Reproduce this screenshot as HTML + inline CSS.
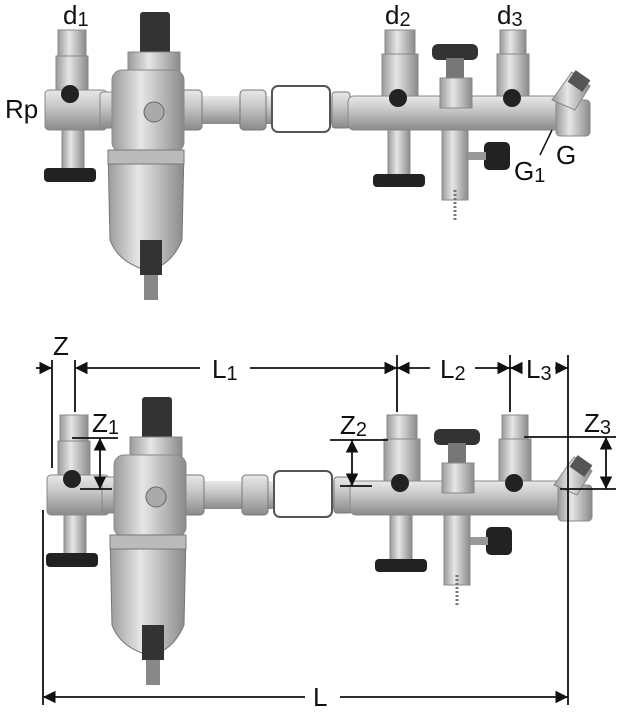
<!DOCTYPE html>
<html><head><style>
html,body{margin:0;padding:0;background:#fff;}
svg{display:block;}
text{font-family:"Liberation Sans Narrow","Liberation Sans",sans-serif;fill:#111;}
</style></head><body>
<svg width="619" height="719" viewBox="0 0 619 719" xmlns="http://www.w3.org/2000/svg">
<defs>
<linearGradient id="m" x1="0" y1="0" x2="0" y2="1">
<stop offset="0" stop-color="#e8e8e8"/><stop offset="0.4" stop-color="#c8c8c8"/><stop offset="1" stop-color="#8a8a8a"/></linearGradient>
<linearGradient id="v" x1="0" y1="0" x2="1" y2="0">
<stop offset="0" stop-color="#9a9a9a"/><stop offset="0.4" stop-color="#e6e6e6"/><stop offset="1" stop-color="#8a8a8a"/></linearGradient>
<marker id="a" viewBox="0 0 10 10" refX="10" refY="5" markerWidth="7" markerHeight="7" orient="auto-start-reverse"><path d="M0,0 L10,5 L0,10 z" fill="#111"/></marker>
<g id="asm">
<rect x="180" y="96" width="170" height="28" fill="url(#m)"/>
<rect x="180" y="90" width="22" height="40" rx="4" fill="url(#m)" stroke="#777"/>
<rect x="240" y="90" width="26" height="40" rx="4" fill="url(#m)" stroke="#777"/>
<rect x="272" y="86" width="58" height="46" rx="6" fill="#fff" stroke="#555" stroke-width="2"/>
<rect x="332" y="92" width="18" height="36" rx="3" fill="url(#m)" stroke="#777"/>
<rect x="45" y="90" width="62" height="40" rx="4" fill="url(#m)" stroke="#888"/>
<rect x="100" y="92" width="22" height="36" rx="3" fill="url(#m)" stroke="#888"/>
<rect x="58" y="30" width="28" height="28" fill="url(#v)" stroke="#888"/>
<rect x="56" y="56" width="32" height="34" fill="url(#v)" stroke="#888"/>
<circle cx="70" cy="94" r="9" fill="#222"/>
<rect x="62" y="130" width="22" height="40" fill="url(#v)" stroke="#888"/>
<rect x="44" y="168" width="52" height="14" rx="4" fill="#222"/>
<rect x="140" y="12" width="30" height="44" rx="3" fill="#333"/>
<rect x="128" y="52" width="52" height="20" fill="url(#v)" stroke="#888"/>
<rect x="112" y="70" width="72" height="82" rx="10" fill="url(#v)" stroke="#888"/>
<circle cx="154" cy="112" r="10" fill="#aaa" stroke="#666"/>
<path d="M108,150 L184,150 L182,240 Q170,268 146,270 Q118,262 110,240 z" fill="url(#v)" stroke="#777"/>
<rect x="108" y="150" width="76" height="14" fill="#bbb" stroke="#777"/>
<rect x="140" y="240" width="22" height="35" fill="#333"/>
<rect x="144" y="275" width="14" height="25" fill="#888"/>
<rect x="348" y="96" width="212" height="34" rx="6" fill="url(#m)" stroke="#888"/>
<rect x="385" y="30" width="30" height="26" fill="url(#v)" stroke="#888"/>
<rect x="382" y="54" width="36" height="42" fill="url(#v)" stroke="#888"/>
<circle cx="398" cy="98" r="9" fill="#222"/>
<rect x="388" y="130" width="22" height="46" fill="url(#v)" stroke="#888"/>
<rect x="373" y="174" width="52" height="13" rx="4" fill="#222"/>
<rect x="432" y="44" width="46" height="16" rx="6" fill="#333"/>
<rect x="446" y="58" width="18" height="22" fill="#777"/>
<rect x="440" y="78" width="32" height="30" fill="url(#v)" stroke="#888"/>
<rect x="442" y="130" width="26" height="70" fill="url(#v)" stroke="#888"/>
<rect x="484" y="142" width="26" height="28" rx="5" fill="#222"/>
<rect x="468" y="152" width="18" height="8" fill="#999"/>
<line x1="455" y1="190" x2="455" y2="220" stroke="#777" stroke-width="3" stroke-dasharray="2 2"/>
<rect x="500" y="30" width="26" height="26" fill="url(#v)" stroke="#888"/>
<rect x="497" y="54" width="32" height="42" fill="url(#v)" stroke="#888"/>
<circle cx="512" cy="98" r="9" fill="#222"/>
<rect x="556" y="100" width="34" height="36" rx="4" fill="url(#v)" stroke="#888"/>
<path d="M552,100 L572,72 L590,86 L575,110 z" fill="url(#v)" stroke="#888"/>
<rect x="570" y="74" width="18" height="14" fill="#555" transform="rotate(35 579 81)"/>
</g>
</defs>
<use href="#asm"/>
<use href="#asm" transform="translate(2,385)"/>
<text x="63" y="24" font-size="26">d<tspan font-size="20" dy="2">1</tspan></text>
<text x="5" y="118" font-size="26">Rp</text>
<text x="385" y="24" font-size="26">d<tspan font-size="20" dy="2">2</tspan></text>
<text x="497" y="24" font-size="26">d<tspan font-size="20" dy="2">3</tspan></text>
<text x="514" y="180" font-size="26">G<tspan font-size="20" dy="2">1</tspan></text>
<text x="556" y="164" font-size="26">G</text>
<line x1="540" y1="155" x2="552" y2="130" stroke="#111" stroke-width="1.5"/>
<g stroke="#111" stroke-width="1.8" fill="none">
<line x1="52" y1="360" x2="52" y2="468"/>
<line x1="75" y1="360" x2="75" y2="412"/>
<line x1="397" y1="355" x2="397" y2="412"/>
<line x1="510" y1="355" x2="510" y2="412"/>
<line x1="568" y1="355" x2="568" y2="705"/>
<line x1="43" y1="510" x2="43" y2="705"/>
<line x1="36" y1="368" x2="52" y2="368" marker-end="url(#a)"/>
<line x1="75" y1="368" x2="200" y2="368" marker-start="url(#a)"/>
<line x1="250" y1="368" x2="397" y2="368" marker-end="url(#a)"/>
<line x1="397" y1="368" x2="430" y2="368" marker-start="url(#a)"/>
<line x1="475" y1="368" x2="510" y2="368" marker-end="url(#a)"/>
<line x1="510" y1="368" x2="522" y2="368" marker-start="url(#a)"/>
<line x1="555" y1="368" x2="568" y2="368" marker-end="url(#a)"/>
<line x1="72" y1="438" x2="118" y2="438"/>
<line x1="80" y1="489" x2="112" y2="489"/>
<line x1="100" y1="438" x2="100" y2="489" marker-start="url(#a)" marker-end="url(#a)"/>
<line x1="330" y1="440" x2="388" y2="440"/>
<line x1="340" y1="486" x2="372" y2="486"/>
<line x1="352" y1="440" x2="352" y2="486" marker-start="url(#a)" marker-end="url(#a)"/>
<line x1="524" y1="437" x2="616" y2="437"/>
<line x1="560" y1="489" x2="616" y2="489"/>
<line x1="606" y1="437" x2="606" y2="489" marker-start="url(#a)" marker-end="url(#a)"/>
<line x1="43" y1="697" x2="305" y2="697" marker-start="url(#a)"/>
<line x1="340" y1="697" x2="568" y2="697" marker-end="url(#a)"/>
</g>
<text x="53" y="355" font-size="26">Z</text>
<text x="212" y="378" font-size="26">L<tspan font-size="20" dy="2">1</tspan></text>
<text x="440" y="378" font-size="26">L<tspan font-size="20" dy="2">2</tspan></text>
<text x="526" y="378" font-size="26">L<tspan font-size="20" dy="2">3</tspan></text>
<text x="92" y="432" font-size="26">Z<tspan font-size="20" dy="2">1</tspan></text>
<text x="340" y="434" font-size="26">Z<tspan font-size="20" dy="2">2</tspan></text>
<text x="584" y="432" font-size="26">Z<tspan font-size="20" dy="2">3</tspan></text>
<text x="313" y="706" font-size="26">L</text>
</svg>
</body></html>
